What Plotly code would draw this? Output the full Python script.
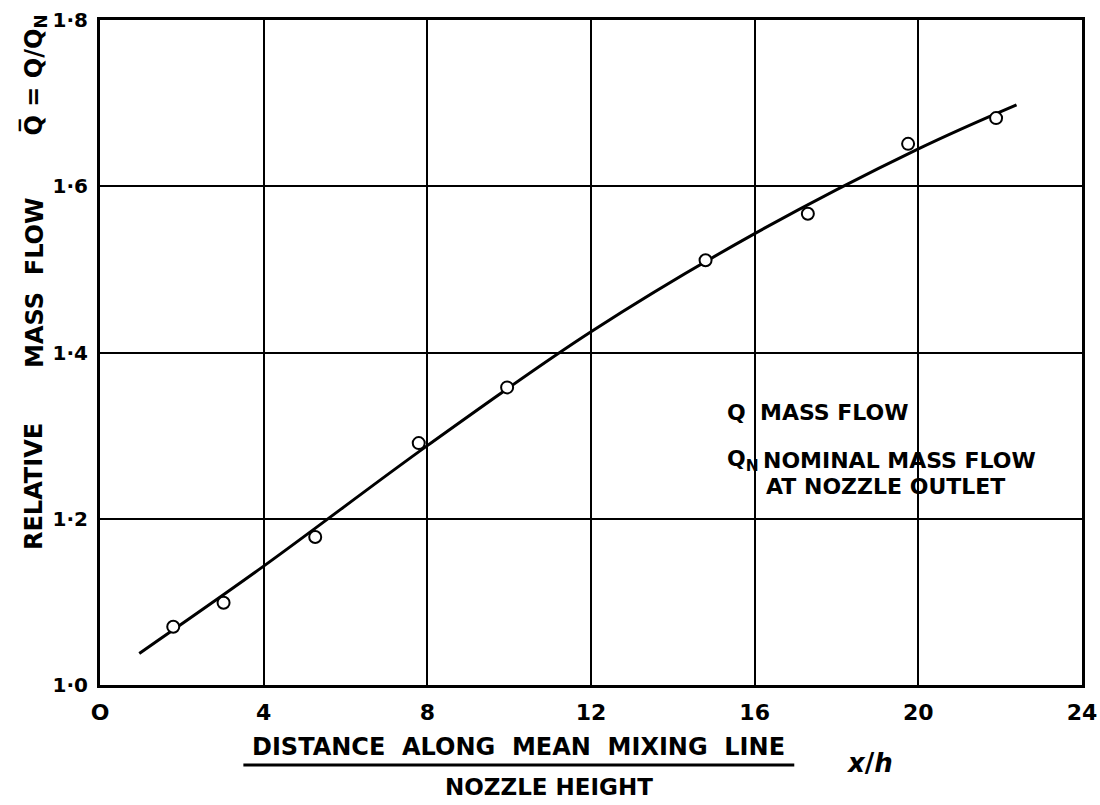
import plotly.graph_objects as go

# data
x_points = [1.79, 3.02, 5.26, 7.79, 9.95, 14.8, 17.3, 19.75, 21.9]
q_points = [1.070, 1.099, 1.178, 1.291, 1.358, 1.511, 1.567, 1.651, 1.682]

x_curve = [0.96, 4.0, 8.0, 12.0, 16.0, 20.0, 22.4]
q_curve = [1.038, 1.143, 1.288, 1.425, 1.543, 1.645, 1.698]

x_tickvals = [0, 4, 8, 12, 16, 20, 24]
x_ticktext = ["<b>O</b>", "<b>4</b>", "<b>8</b>", "<b>12</b>", "<b>16</b>", "<b>20</b>", "<b>24</b>"]
y_tickvals = [1.0, 1.2, 1.4, 1.6, 1.8]
y_ticktext = ["<b>1·0</b>", "<b>1·2</b>", "<b>1·4</b>", "<b>1·6</b>", "<b>1·8</b>"]

FONT = "DejaVu Sans"

fig = go.Figure()
fig.add_trace(go.Scatter(
    x=x_curve, y=q_curve, mode="lines",
    line=dict(color="black", width=3, shape="spline", smoothing=1.0),
    showlegend=False, hoverinfo="skip"))
fig.add_trace(go.Scatter(
    x=x_points, y=q_points, mode="markers",
    marker=dict(symbol="circle", size=12, color="white",
                line=dict(color="black", width=2)),
    showlegend=False))

fig.update_layout(
    width=1100, height=805,
    margin=dict(l=100, r=18, t=20, b=120),
    paper_bgcolor="white", plot_bgcolor="white",
    font=dict(family=FONT, color="black"),
    xaxis=dict(range=[0, 24], tickvals=x_tickvals, ticktext=x_ticktext,
               showgrid=True, gridcolor="black", gridwidth=2,
               showline=True, linecolor="black", linewidth=3, mirror=True,
               ticks="", zeroline=False, automargin=False,
               tickfont=dict(family=FONT, size=22, color="black"),
               ticklabelstandoff=6),
    yaxis=dict(range=[1.0, 1.8], tickvals=y_tickvals, ticktext=y_ticktext,
               showgrid=True, gridcolor="black", gridwidth=2,
               showline=True, linecolor="black", linewidth=3, mirror=True,
               ticks="", zeroline=False, automargin=False,
               tickfont=dict(family=FONT, size=20, color="black"),
               ticklabelstandoff=5),
)

def txt(x, y, text, size, xanchor="center", angle=0):
    return dict(xref="paper", yref="paper", x=x, y=y, xanchor=xanchor, yanchor="middle",
                text=text, textangle=angle, showarrow=False,
                font=dict(family=FONT, size=size, color="black"))

ann = [
    # y-axis title, in three groups
    txt(-0.067, 0.298, "<b>RELATIVE</b>", 24, angle=-90),
    txt(-0.067, 0.605, "<b>MASS  FLOW</b>", 24, angle=-90),
    txt(-0.067, 0.917, "<b>Q̅ = Q/Q<sub>N</sub></b>", 24, angle=-90),
    # x-axis title
    txt(0.4265, -0.093, "<b>DISTANCE  ALONG  MEAN  MIXING  LINE</b>", 24),
    txt(0.457, -0.153, "<b>NOZZLE HEIGHT</b>", 23),
    txt(0.784, -0.117, "<b><i>x</i>/<i>h</i></b>", 26),
    # key
    txt(0.636, 0.4105, "<b>Q</b>", 22, xanchor="left"),
    txt(0.670, 0.4105, "<b>MASS FLOW</b>", 22, xanchor="left"),
    txt(0.636, 0.338, "<b>Q<sub>N</sub></b>", 22, xanchor="left"),
    txt(0.673, 0.338, "<b>NOMINAL MASS FLOW</b>", 22, xanchor="left"),
    txt(0.676, 0.298, "<b>AT NOZZLE OUTLET</b>", 22, xanchor="left"),
]
fig.update_layout(annotations=ann)

# fraction bar of the x title
fig.add_shape(type="line", xref="paper", yref="paper", x0=0.146, x1=0.707, y0=-0.1203, y1=-0.1203,
              line=dict(color="black", width=3))

fig.write_html("out.html")
